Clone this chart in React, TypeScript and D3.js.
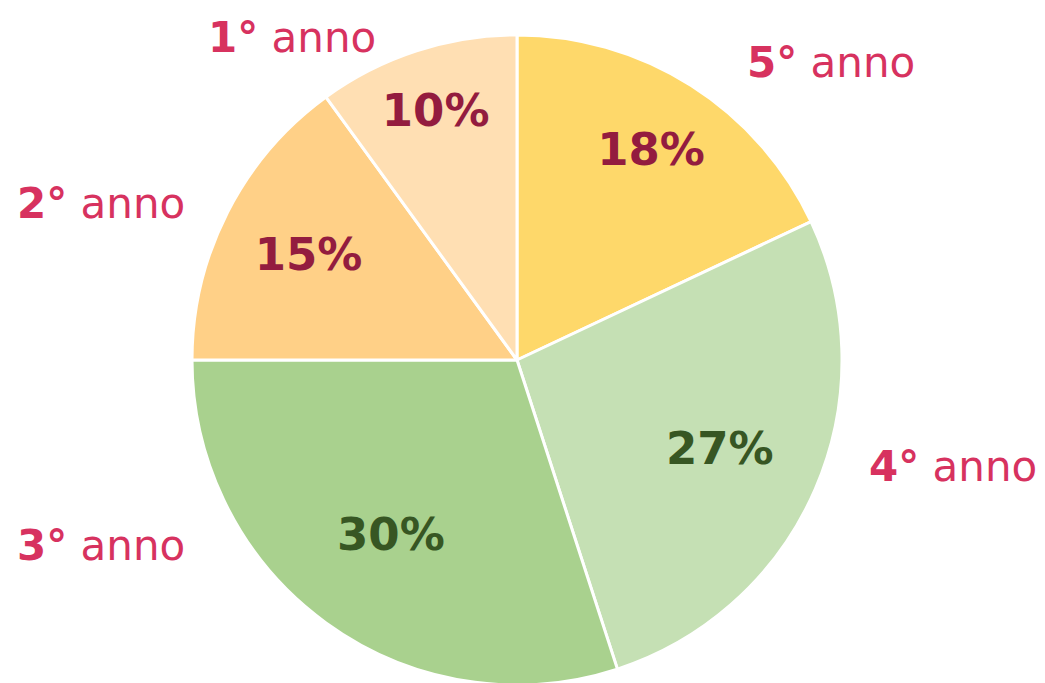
import { useMemo } from "react";
import * as d3 from "d3";

// Slices, clockwise from 12 o'clock
const YEARS = ["5°", "4°", "3°", "2°", "1°"];
const SHARES = [18, 27, 30, 15, 10];
const FILLS = ["#FED86A", "#C5E0B4", "#A9D18E", "#FFD087", "#FFDFB3"];
const VALUE_COLORS = ["#931C3F", "#375623", "#375623", "#931C3F", "#931C3F"];

// hand-placed category labels (left x, baseline)
const LABEL_POS: [number, number][] = [
  [747, 77],
  [869, 481],
  [17, 560],
  [17, 218],
  [208, 52],
];
// value label distance from centre, as share of radius
const VALUE_R = [0.77, 0.68, 0.66, 0.72, 0.81];

const W = 1045;
const H = 683;
const CX = 517;
const CY = 360;
const R = 325;
const PINK = "#D7325F";
const FONT = "'DejaVu Sans', Verdana, sans-serif";

export default function App() {
  const arcs = useMemo(
    () =>
      d3
        .pie<number>()
        .sort(null)
        .value((d) => d)(SHARES),
    []
  );
  const arc = d3.arc<d3.PieArcDatum<number>>().innerRadius(0).outerRadius(R);

  return (
    <svg
      width={W}
      height={H}
      style={{ position: "absolute", left: 0, top: 0, background: "#fff" }}
    >
      <g transform={`translate(${CX},${CY})`}>
        {arcs.map((a, i) => (
          <path
            key={YEARS[i]}
            d={arc(a) ?? ""}
            fill={FILLS[i]}
            stroke="#fff"
            strokeWidth={3}
            strokeLinejoin="round"
          />
        ))}
        {arcs.map((a, i) => {
          const rr = R * VALUE_R[i];
          const [x, y] = d3
            .arc<d3.PieArcDatum<number>>()
            .innerRadius(rr)
            .outerRadius(rr)
            .centroid(a);
          return (
            <text
              key={"v" + i}
              x={x}
              y={y}
              dy="0.36em"
              textAnchor="middle"
              fontFamily={FONT}
              fontWeight="bold"
              fontSize={45}
              fill={VALUE_COLORS[i]}
            >
              {SHARES[i]}%
            </text>
          );
        })}
      </g>
      {YEARS.map((yr, i) => (
        <text
          key={"l" + i}
          x={LABEL_POS[i][0]}
          y={LABEL_POS[i][1]}
          fontFamily={FONT}
          fontSize={42}
          fill={PINK}
        >
          <tspan fontWeight="bold">{yr}</tspan>
          <tspan> anno</tspan>
        </text>
      ))}
    </svg>
  );
}
